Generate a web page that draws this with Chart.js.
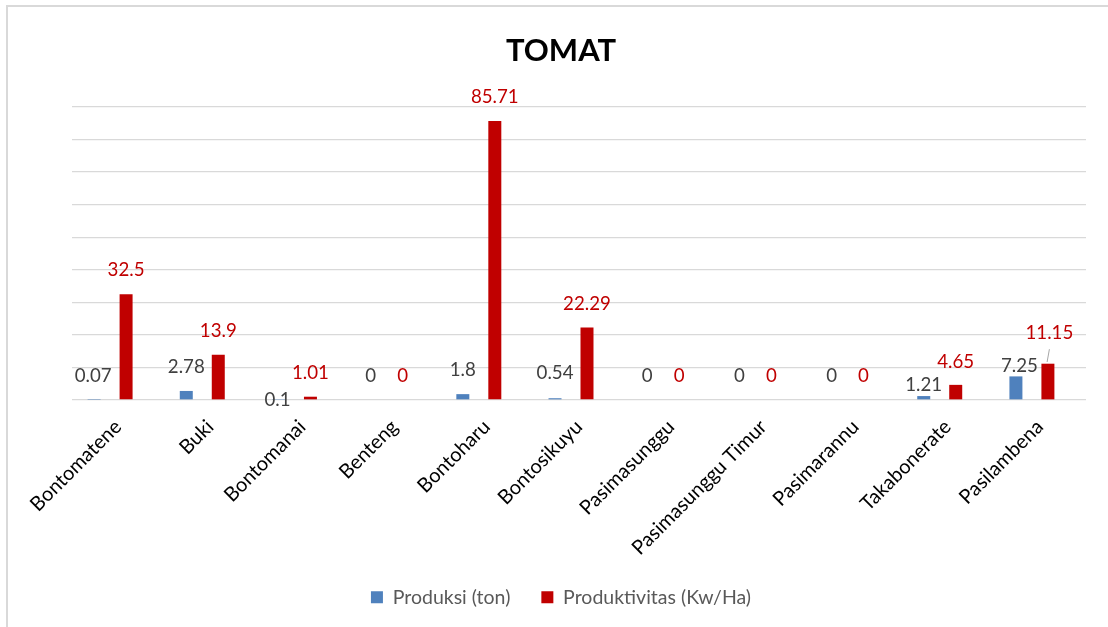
<!DOCTYPE html>
<html>
<head>
<meta charset="utf-8">
<script src="https://cdn.jsdelivr.net/npm/chart.js@4.4.0/dist/chart.umd.min.js"></script>
<style>
  html, body { margin: 0; padding: 0; background: #fff; }
  #wrap { width: 1108px; height: 627px; position: relative; }
</style>
</head>
<body>
<div id="wrap"><canvas id="myChart"></canvas></div>
<script>
// data
const desa = ['Bontomatene', 'Buki', 'Bontomanai', 'Benteng', 'Bontoharu', 'Bontosikuyu',
  'Pasimasunggu', 'Pasimasunggu Timur', 'Pasimarannu', 'Takabonerate', 'Pasilambena'];
const produksi = [0.07, 2.78, 0.1, 0, 1.8, 0.54, 0, 0, 0, 1.21, 7.25];
const produktivitas = [32.5, 13.9, 1.01, 0, 85.71, 22.29, 0, 0, 0, 4.65, 11.15];
const yTicks = [0, 10, 20, 30, 40, 50, 60, 70, 80, 90];

// where the labels sit relative to the bar top (excel moved a few by hand)
const produksiDx = [-1, 0, -1, 0, 0, 0, 0, 0, 0, 0, 3.5];
const produksiDy = [-24, -24, 0, -24, -24, -25, -24, -24, -24, -11, -10.5];
const produktivitasDx = [0, 0, 0, 0, 0, 0, 0, 0, 0, 0, 1.5];
const produktivitasDy = [-24, -24, -24, -24, -24, -23, -24, -24, -24, -23, -30.5];

const blue = '#4F81BD';
const red = '#C00000';
const font = 'Lato';

const empty = desa.map(() => null);

const frame = {
  id: 'frame',
  afterDraw(chart) {
    const ctx = chart.ctx;
    ctx.save();
    ctx.strokeStyle = '#d9d9d9';
    ctx.lineWidth = 2;
    ctx.beginPath();
    ctx.moveTo(7, 627);
    ctx.lineTo(7, 6);
    ctx.lineTo(1108, 6);
    ctx.stroke();
    ctx.restore();
  }
};

const barLabels = {
  id: 'barLabels',
  afterDatasetsDraw(chart) {
    const ctx = chart.ctx;
    const sets = [
      { idx: 0, vals: produksi, dx: produksiDx, dy: produksiDy, color: '#404040' },
      { idx: 2, vals: produktivitas, dx: produktivitasDx, dy: produktivitasDy, color: red }
    ];
    ctx.save();
    ctx.font = '18.7px ' + font;
    ctx.textAlign = 'center';
    ctx.textBaseline = 'middle';
    sets.forEach(s => {
      const meta = chart.getDatasetMeta(s.idx);
      meta.data.forEach((bar, i) => {
        ctx.fillStyle = s.color;
        ctx.fillText(String(s.vals[i]), bar.x + s.dx[i], bar.y + s.dy[i]);
      });
    });
    // leader line on 11.15
    const last = chart.getDatasetMeta(2).data[10];
    ctx.strokeStyle = '#a6a6a6';
    ctx.lineWidth = 1;
    ctx.beginPath();
    ctx.moveTo(last.x + 1.5, last.y - 14.5);
    ctx.lineTo(last.x - 0.8, last.y - 1.7);
    ctx.stroke();
    ctx.restore();
  }
};

function makeChart() {
  new Chart(document.getElementById('myChart'), {
    type: 'bar',
    data: {
      labels: desa,
      datasets: [
        { label: 'Produksi (ton)', data: produksi, backgroundColor: blue },
        { label: '', data: empty },
        { label: 'Produktivitas (Kw/Ha)', data: produktivitas, backgroundColor: red },
        { label: '', data: empty }
      ]
    },
    options: {
      responsive: true,
      maintainAspectRatio: false,
      animation: false,
      categoryPercentage: 0.694,
      barPercentage: 0.8125,
      layout: { padding: { left: 14, right: 0, top: 0, bottom: 10 } },
      plugins: {
        title: {
          display: true,
          text: 'TOMAT',
          color: '#000',
          font: { family: font, size: 31, weight: 'bold' },
          padding: { top: 32, bottom: 37.8 }
        },
        legend: {
          position: 'bottom',
          labels: {
            boxWidth: 12,
            boxHeight: 12,
            padding: 31,
            color: '#595959',
            font: { family: font, size: 19.5 },
            filter: item => item.text !== ''
          }
        },
        tooltip: { enabled: false }
      },
      scales: {
        x: {
          grid: { display: false, drawTicks: false },
          border: { display: false },
          ticks: {
            autoSkip: false,
            minRotation: 45,
            maxRotation: 45,
            padding: 15,
            color: '#000',
            font: { family: font, size: 20 }
          },
          afterFit: s => { s.height = 156.5; }
        },
        y: {
          min: yTicks[0],
          max: yTicks[yTicks.length - 1],
          afterBuildTicks: s => { s.ticks = yTicks.map(v => ({ value: v })); },
          ticks: { display: false },
          grid: { color: '#d9d9d9', lineWidth: 1.3, drawTicks: false },
          border: { display: false },
          afterFit: s => { s.width = 58; }
        },
        yr: {
          position: 'right',
          display: true,
          ticks: { display: false },
          grid: { display: false, drawTicks: false },
          border: { display: false },
          afterFit: s => { s.width = 22; }
        }
      }
    },
    plugins: [frame, barLabels]
  });
}

Promise.all([
  document.fonts.load('bold 31px Lato'),
  document.fonts.load('20px Lato')
]).then(makeChart, makeChart);
</script>
</body>
</html>
